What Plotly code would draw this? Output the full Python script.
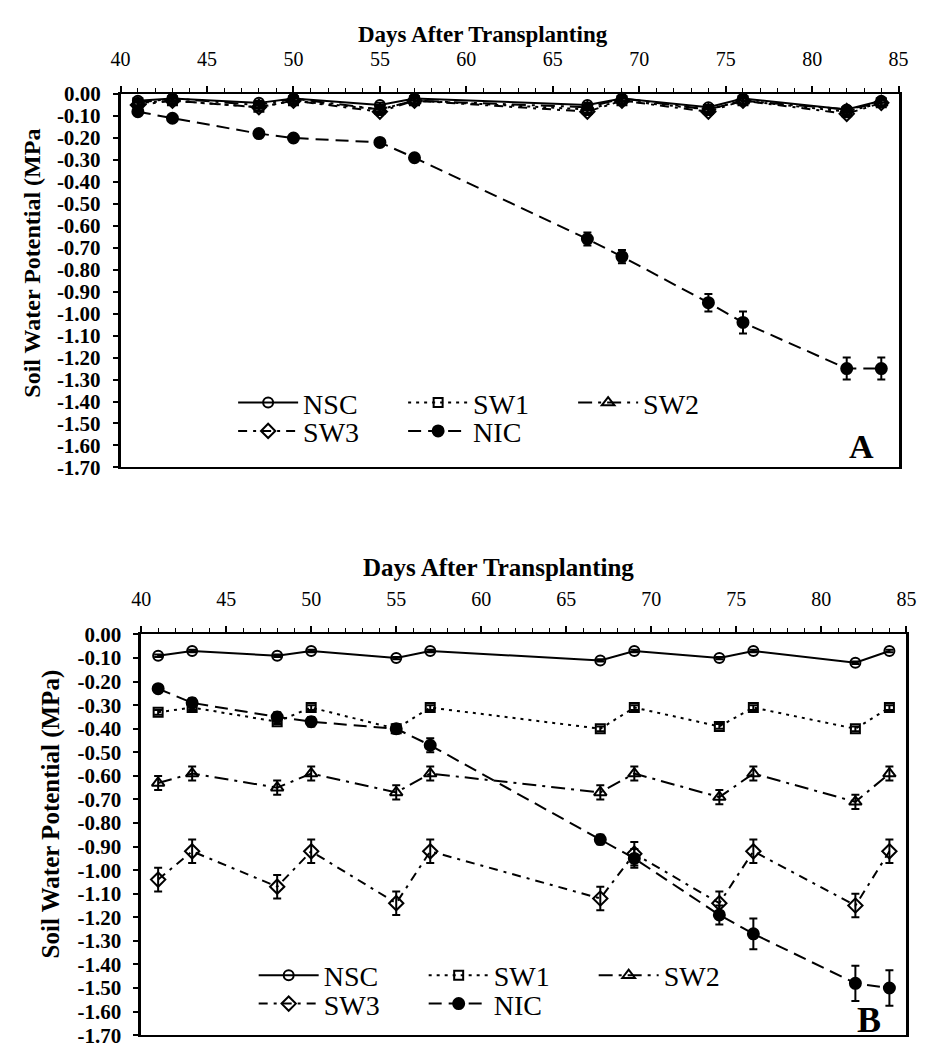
import plotly.graph_objects as go

# ---------------- data ----------------
days = [41, 43, 48, 50, 55, 57, 67, 69, 74, 76, 82, 84]

# Panel A
a_nsc = [-0.03, -0.02, -0.04, -0.02, -0.05, -0.02, -0.05, -0.02, -0.06, -0.02, -0.07, -0.03]
a_sw1 = [-0.04, -0.03, -0.06, -0.03, -0.07, -0.03, -0.07, -0.03, -0.07, -0.03, -0.08, -0.04]
a_sw2 = [-0.04, -0.02, -0.05, -0.02, -0.07, -0.03, -0.06, -0.02, -0.07, -0.03, -0.07, -0.04]
a_sw3 = [-0.05, -0.03, -0.06, -0.03, -0.08, -0.03, -0.08, -0.03, -0.08, -0.03, -0.09, -0.04]
a_nic = [-0.08, -0.11, -0.18, -0.20, -0.22, -0.29, -0.66, -0.74, -0.95, -1.04, -1.25, -1.25]
a_nsc_err = [0.01] * 12
a_sw1_err = [0.015] * 12
a_sw2_err = [0.015] * 12
a_sw3_err = [0.015] * 12
a_nic_err = [0.01, 0.01, 0.01, 0.01, 0.01, 0.01, 0.03, 0.03, 0.04, 0.05, 0.05, 0.05]

# Panel B
b_nsc = [-0.09, -0.07, -0.09, -0.07, -0.10, -0.07, -0.11, -0.07, -0.10, -0.07, -0.12, -0.07]
b_sw1 = [-0.33, -0.31, -0.37, -0.31, -0.40, -0.31, -0.40, -0.31, -0.39, -0.31, -0.40, -0.31]
b_sw2 = [-0.63, -0.59, -0.65, -0.59, -0.67, -0.59, -0.67, -0.59, -0.69, -0.59, -0.71, -0.59]
b_sw3 = [-1.04, -0.92, -1.07, -0.92, -1.14, -0.92, -1.12, -0.93, -1.14, -0.92, -1.15, -0.92]
b_nic = [-0.23, -0.29, -0.35, -0.37, -0.40, -0.47, -0.87, -0.95, -1.19, -1.27, -1.48, -1.50]
b_nsc_err = [0.005] * 12
b_sw1_err = [0.01] * 12
b_sw2_err = [0.03] * 12
b_sw3_err = [0.05] * 12
b_nic_err = [0.01, 0.02, 0.02, 0.02, 0.02, 0.03, 0.02, 0.04, 0.04, 0.065, 0.075, 0.075]

series_names = ["NSC", "SW1", "SW2", "SW3", "NIC"]
x_tick_vals = [40, 45, 50, 55, 60, 65, 70, 75, 80, 85]
y_tick_vals = [0.0, -0.1, -0.2, -0.3, -0.4, -0.5, -0.6, -0.7, -0.8, -0.9,
               -1.0, -1.1, -1.2, -1.3, -1.4, -1.5, -1.6, -1.7]
y_tick_text = ["0.00", "-0.10", "-0.20", "-0.30", "-0.40", "-0.50", "-0.60", "-0.70", "-0.80",
               "-0.90", "-1.00", "-1.10", "-1.20", "-1.30", "-1.40", "-1.50", "-1.60", "-1.70"]

FONT = "Liberation Serif"
W, H = 935, 1054

styles = {
    "NSC": dict(dash="solid", symbol="circle-open", size=10),
    "SW1": dict(dash="3px,5px", symbol="square-open", size=9),
    "SW2": dict(dash="14px,6px,3px,6px", symbol="triangle-up-open", size=11),
    "SW3": dict(dash="9px,6px,3px,6px", symbol="diamond-open", size=11),
    "NIC": dict(dash="13px,7px", symbol="circle", size=11),
}

fig = go.Figure()

panels = [
    ("x", "y", [a_nsc, a_sw1, a_sw2, a_sw3, a_nic],
     [a_nsc_err, a_sw1_err, a_sw2_err, a_sw3_err, a_nic_err], ("legend", "legend2")),
    ("x2", "y2", [b_nsc, b_sw1, b_sw2, b_sw3, b_nic],
     [b_nsc_err, b_sw1_err, b_sw2_err, b_sw3_err, b_nic_err], ("legend3", "legend4")),
]

for xa, ya, vals, errs, (lg1, lg2) in panels:
    for i, name in enumerate(series_names):
        st = styles[name]
        fig.add_trace(go.Scatter(
            x=days, y=vals[i], name=name, mode="lines+markers",
            xaxis=xa, yaxis=ya,
            legend=lg1 if i < 3 else lg2,
            line=dict(color="black", width=2, dash=st["dash"]),
            marker=dict(symbol=st["symbol"], size=st["size"], color="black",
                        line=dict(color="black", width=2)),
            error_y=dict(type="data", array=errs[i], visible=True, color="black",
                         thickness=2, width=4),
            cliponaxis=False,
        ))

def xdom(l, r):
    return [l / W, r / W]

def ydom(t, b):
    return [1 - b / H, 1 - t / H]

xaxis_common = dict(
    range=[40, 85], side="top", tickvals=x_tick_vals,
    ticks="outside", ticklen=6, tickwidth=1.5, tickcolor="black",
    minor=dict(dtick=1, tick0=40, ticks="outside", ticklen=4, tickwidth=1, tickcolor="black"),
    showline=True, linewidth=2, linecolor="black", mirror=True,
    showgrid=False, zeroline=False,
    tickfont=dict(family=FONT, size=20, color="black"),
    ticklabelstandoff=12,
)
yaxis_common = dict(
    range=[-1.70, 0.0], tickvals=y_tick_vals, ticktext=y_tick_text,
    ticks="outside", ticklen=5, tickwidth=1.5, tickcolor="black",
    showline=True, linewidth=2.5, linecolor="black", mirror=True,
    showgrid=False, zeroline=False,
    tickfont=dict(family=FONT, size=21, color="black", weight="bold"),
    ticklabelstandoff=8,
)

fig.update_layout(
    width=W, height=H,
    margin=dict(l=0, r=0, t=0, b=0),
    paper_bgcolor="white", plot_bgcolor="white",
    font=dict(family=FONT, color="black"),
    xaxis=dict(domain=xdom(113, 908), anchor="y", **xaxis_common),
    yaxis=dict(domain=ydom(84, 466), anchor="x", **yaxis_common),
    xaxis2=dict(domain=xdom(134, 916), anchor="y2", **xaxis_common),
    yaxis2=dict(domain=ydom(637, 1047), anchor="x2", **yaxis_common),
)

legend_common = dict(
    orientation="h", xref="paper", yref="paper", xanchor="left", yanchor="middle",
    bgcolor="rgba(0,0,0,0)", borderwidth=0,
    font=dict(family=FONT, size=28, color="black"),
    itemwidth=60, entrywidth=95, entrywidthmode="pixels",
    itemclick=False, itemdoubleclick=False,
)
fig.update_layout(
    legend=dict(x=228 / W, y=1 - 400 / H, **legend_common),
    legend2=dict(x=228 / W, y=1 - 429 / H, **legend_common),
    legend3=dict(x=249 / W, y=1 - 986 / H, **legend_common),
    legend4=dict(x=249 / W, y=1 - 1015 / H, **legend_common),
)

ann = [
    dict(text="<b>Days After Transplanting</b>", x=483 / W, y=1 - 23 / H, font_size=23),
    dict(text="<b>Days After Transplanting</b>", x=499 / W, y=1 - 568 / H, font_size=25),
    dict(text="<b>Soil Water Potential (MPa</b>", x=23 / W, y=1 - 257 / H, font_size=24, textangle=-90),
    dict(text="<b>Soil Water Potential (MPa)</b>", x=42 / W, y=1 - 821 / H, font_size=25, textangle=-90),
    dict(text="<b>A</b>", x=870 / W, y=1 - 445 / H, font_size=34),
    dict(text="<b>B</b>", x=878 / W, y=1 - 1031 / H, font_size=36),
]
for a in ann:
    fs = a.pop("font_size")
    fig.add_annotation(xref="paper", yref="paper", showarrow=False,
                       xanchor="center", yanchor="middle",
                       font=dict(family=FONT, size=fs, color="black"), **a)

fig.write_html("out.html")
